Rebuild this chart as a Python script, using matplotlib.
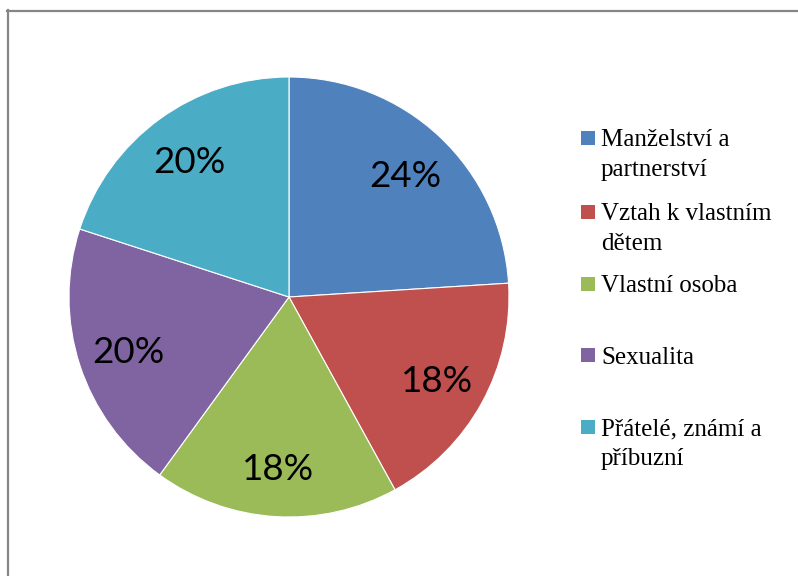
import matplotlib.pyplot as plt
from matplotlib.patches import Rectangle
from matplotlib.lines import Line2D

# data
kategorie = ['Manželství a\npartnerství', 'Vztah k vlastním\ndětem', 'Vlastní osoba',
             'Sexualita', 'Přátelé, známí a\npříbuzní']
podily = [24, 18, 18, 20, 20]
barvy = ['#4F81BD', '#C0504D', '#9BBB59', '#8064A2', '#4BACC6']

W, H = 798, 576
fig = plt.figure(figsize=(W / 100, H / 100), dpi=100)

def fx(x):
    return x / W

def fy(y):
    return 1 - y / H

# ramecek kolem grafu
fig.add_artist(Line2D([fx(8), fx(8)], [fy(10), fy(576)], color='#868686', lw=1.6))
fig.add_artist(Line2D([fx(7), fx(798)], [fy(10.5), fy(10.5)], color='#868686', lw=1.6))

# kolac
cx, cy, r = 289, 297, 220
ax = fig.add_axes([fx(cx - r), fy(cy + r), 2 * r / W, 2 * r / H])
wedges, texty, pct = ax.pie(podily, colors=barvy, startangle=90, counterclock=False,
                            autopct='%d%%', pctdistance=0.77,
                            wedgeprops=dict(edgecolor='white', linewidth=0.8),
                            textprops=dict(fontsize=26.5, family='Lato', color='black'))
for t in pct:
    t.set_va('center_baseline')
ax.set_xlim(-1, 1)
ax.set_ylim(-1, 1)
ax.set_aspect('auto')
ax.axis('off')

# legenda
ctverce_y = [131, 205, 277, 348, 420]
for i, (nazev, barva) in enumerate(zip(kategorie, barvy)):
    y0 = ctverce_y[i]
    fig.add_artist(Rectangle((fx(581), fy(y0 + 14)), 14 / W, 14 / H,
                             facecolor=barva, edgecolor='none'))
    for j, radek in enumerate(nazev.split('\n')):
        fig.text(fx(601), fy(y0 + 15.5 + j * 29.5), radek, fontsize=18,
                 family='Liberation Serif', va='baseline', ha='left')

fig.savefig('out.png', dpi=100)
